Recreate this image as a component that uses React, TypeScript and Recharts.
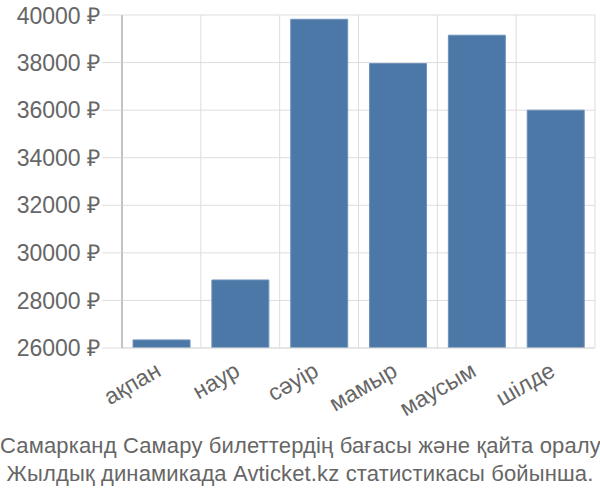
import React from 'react';
import { BarChart, Bar, XAxis, YAxis, CartesianGrid } from 'recharts';

const months = ['ақпан', 'наур', 'сәуір', 'мамыр', 'маусым', 'шілде'];
const prices = [26340, 28860, 39820, 37960, 39150, 36000];
const yTicks = [26000, 28000, 30000, 32000, 34000, 36000, 38000, 40000];
const boundaryTicks = [0, 1, 2, 3, 4, 5, 6];
const titleLines = [
  'Самарканд Самару билеттердің бағасы және қайта оралу',
  'Жылдық динамикада Avticket.kz статистикасы бойынша.',
];

const data = months.map((m, i) => ({ month: m, price: prices[i], idx: i + 0.5 }));

const FONT = '"Liberation Sans", Arial, sans-serif';

const MonthTick = (props: any) => {
  const { x, y, payload } = props;
  const tx = x + 1;
  const ty = y + 27;
  return (
    <text
      x={tx}
      y={ty}
      transform={`rotate(-30, ${tx}, ${ty})`}
      textAnchor="end"
      fill="#666"
      fontSize={23}
      fontFamily={FONT}
    >
      {payload.value}
    </text>
  );
};

const BoundaryTick = (props: any) => {
  const { x, y, index } = props;
  return <line x1={x} x2={x} y1={y} y2={y + 20} stroke={index === 0 ? '#999' : '#ddd'} strokeWidth={1} />;
};

export default function App() {
  return (
    <div style={{ position: 'absolute', left: 0, top: 0, width: 600, height: 500, background: '#fff' }}>
      <BarChart
        width={600}
        height={500}
        data={data}
        margin={{ top: 15, right: 5, left: 0, bottom: 92 }}
        barCategoryGap="14%"
      >
        <CartesianGrid stroke="#ddd" xAxisId="grid" vertical={true} horizontal={true} />
        <XAxis
          xAxisId="grid"
          type="number"
          dataKey="idx"
          domain={[0, 6]}
          ticks={boundaryTicks}
          height={0}
          axisLine={false}
          tickLine={false}
          tickSize={0}
          tickMargin={0}
          tick={<BoundaryTick />}
          interval={0}
        />
        <XAxis
          dataKey="month"
          height={60}
          axisLine={{ stroke: '#ddd' }}
          tickLine={false}
          tickSize={0}
          tickMargin={0}
          tick={<MonthTick />}
          interval={0}
        />
        <YAxis
          domain={[26000, 40000]}
          ticks={yTicks}
          width={122}
          axisLine={{ stroke: '#999' }}
          tickLine={{ stroke: '#ddd' }}
          tickSize={20}
          tickMargin={2}
          tick={{ fill: '#666', fontSize: 23, fontFamily: FONT }}
          tickFormatter={(v: number) => `${v} ₽`}
          allowDataOverflow
        />
        <Bar dataKey="price" fill="#4c78a8" stroke="#6f92bb" strokeWidth={1} isAnimationActive={false} />
      </BarChart>
      <div
        style={{
          position: 'absolute',
          left: 0,
          top: 432,
          width: 600,
          textAlign: 'center',
          fontFamily: FONT,
          fontSize: 22,
          letterSpacing: '0.15px',
          lineHeight: '28px',
          color: '#666',
          whiteSpace: 'nowrap',
        }}
      >
        {titleLines.map((l) => (
          <div key={l}>{l}</div>
        ))}
      </div>
    </div>
  );
}
